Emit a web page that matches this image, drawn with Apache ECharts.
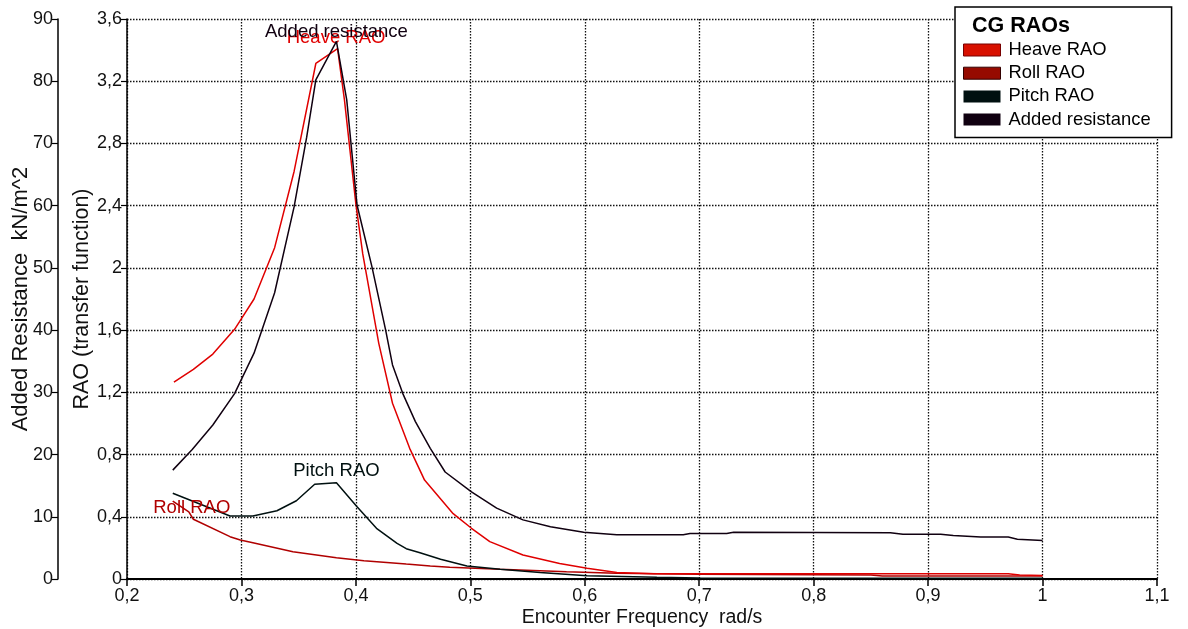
<!DOCTYPE html>
<html>
<head>
<meta charset="utf-8">
<script src="https://cdn.jsdelivr.net/npm/echarts@6/dist/echarts.min.js"></script>
<style>
  html, body { margin: 0; padding: 0; background: #fff; }
  #charts { width: 1188px; height: 629px; }
</style>
</head>
<body>
<div id="charts"></div>
<script>
(function () {
    // heave RAO (transfer function)
    var heaveX = [0.241, 0.258, 0.275, 0.294, 0.311, 0.329, 0.346, 0.365, 0.384, 0.390, 0.400, 0.406, 0.420, 0.432, 0.447, 0.460, 0.485, 0.501, 0.517, 0.546, 0.578, 0.602, 0.628, 0.660, 0.750, 0.850, 0.970, 0.980, 1.000];
    var heaveY = [1.266, 1.348, 1.446, 1.605, 1.80, 2.13, 2.62, 3.314, 3.41, 3.08, 2.41, 2.09, 1.515, 1.13, 0.84, 0.636, 0.42, 0.326, 0.24, 0.154, 0.10, 0.069, 0.042, 0.034, 0.033, 0.033, 0.033, 0.025, 0.022];

    // roll RAO
    var rollX = [0.240, 0.254, 0.258, 0.290, 0.299, 0.310, 0.345, 0.383, 0.407, 0.444, 0.465, 0.482, 0.526, 0.584, 0.628, 0.700, 0.800, 0.850, 0.860, 0.980, 1.000];
    var rollY = [0.50, 0.432, 0.384, 0.272, 0.251, 0.233, 0.175, 0.137, 0.118, 0.096, 0.084, 0.075, 0.062, 0.047, 0.037, 0.030, 0.027, 0.025, 0.020, 0.020, 0.020];

    // pitch RAO
    var pitchX = [0.240, 0.290, 0.310, 0.331, 0.348, 0.364, 0.383, 0.401, 0.418, 0.436, 0.444, 0.456, 0.474, 0.497, 0.526, 0.561, 0.602, 0.663, 0.700, 1.000];
    var pitchY = [0.551, 0.405, 0.405, 0.439, 0.503, 0.609, 0.619, 0.465, 0.326, 0.229, 0.195, 0.169, 0.127, 0.084, 0.062, 0.041, 0.021, 0.011, 0.006, 0.005];

    // added resistance kN/m^2
    var resX = [0.240, 0.257, 0.275, 0.294, 0.311, 0.329, 0.346, 0.357, 0.365, 0.383, 0.392, 0.401, 0.414, 0.426, 0.432, 0.441, 0.452, 0.465, 0.478, 0.501, 0.523, 0.546, 0.570, 0.599, 0.628, 0.686, 0.692, 0.724, 0.730, 0.867, 0.878, 0.911, 0.922, 0.946, 0.970, 0.978, 1.000];
    var resY = [17.5, 20.8, 24.75, 29.8, 36.3, 46.0, 59.8, 71.0, 80.2, 86.4, 77.0, 60.1, 50.2, 40.0, 34.4, 29.8, 25.3, 21.0, 17.2, 14.0, 11.4, 9.5, 8.4, 7.5, 7.1, 7.1, 7.3, 7.3, 7.5, 7.45, 7.2, 7.2, 7.0, 6.75, 6.75, 6.4, 6.2];

    var xTicks = { min: 0.2, max: 1.1, step: 0.1 };
    var raoTicks = { min: 0, max: 3.6, step: 0.4 };
    var resTicks = { min: 0, max: 90, step: 10 };

    var font = 'Liberation Sans, Arial, sans-serif';
    var dotted = { color: '#111', width: 1.3, type: [1.5, 1.5] };

    function comma(v) {
        return String(Math.round(v * 10) / 10).replace('.', ',');
    }

    // pair x/y arrays, put the series label on one point
    function pairs(xs, ys, labelIdx, label) {
        return xs.map(function (x, i) {
            if (i === labelIdx) {
                return { value: [x, ys[i]], symbol: 'circle', symbolSize: 0.5, label: label };
            }
            return [x, ys[i]];
        });
    }
    function peakIndex(ys) {
        var k = 0;
        ys.forEach(function (v, i) { if (v > ys[k]) k = i; });
        return k;
    }
    function seriesLabel(text, color, offset) {
        return {
            show: true, position: 'inside', offset: offset,
            formatter: text, fontSize: 18.5, color: color, fontFamily: font
        };
    }

    var heaveColor = '#e00000',
        rollColor = '#b00000',
        pitchColor = '#001010',
        resColor = '#100010';

    var myChart = echarts.init(document.getElementById('charts'));

    var option = {
        animation: false,
        textStyle: { fontFamily: font },
        grid: { left: 127, right: 31, top: 19, bottom: 50, containLabel: false, outerBoundsMode: 'none' },
        title: {
            text: 'CG RAOs',
            left: 972, top: 15,
            padding: 0,
            textStyle: { fontFamily: font, fontSize: 21.5, fontWeight: 'bold', color: '#000' }
        },
        legend: {
            orient: 'vertical',
            left: 955, top: 7,
            padding: [34, 21, 8.8, 8],
            backgroundColor: '#fff',
            borderColor: '#000',
            borderWidth: 1.5,
            borderRadius: 0,
            itemWidth: 37,
            itemHeight: 12,
            itemGap: 5.2,
            icon: 'rect',
            textStyle: { fontFamily: font, fontSize: 18.4, color: '#000', padding: [0, 0, 0, 3] },
            data: [
                { name: 'Heave RAO', itemStyle: { color: '#d81000', borderColor: '#700', borderWidth: 1 } },
                { name: 'Roll RAO', itemStyle: { color: '#960a00', borderColor: '#300', borderWidth: 1 } },
                { name: 'Pitch RAO', itemStyle: { color: pitchColor, borderWidth: 0 } },
                { name: 'Added resistance', itemStyle: { color: resColor, borderWidth: 0 } }
            ]
        },
        xAxis: {
            type: 'value',
            min: xTicks.min, max: xTicks.max, interval: xTicks.step,
            name: 'Encounter Frequency  rad/s',
            nameLocation: 'middle',
            nameGap: 29,
            nameMoveOverlap: false,
            nameTextStyle: { fontFamily: font, fontSize: 19.5, color: '#111' },
            axisLine: { show: true, onZero: false, lineStyle: { color: '#000', width: 2 } },
            axisTick: { show: true, length: 7, lineStyle: { color: '#000', width: 1.5 } },
            axisLabel: { margin: 8, fontSize: 18, color: '#111', formatter: comma },
            splitLine: { show: true, lineStyle: dotted }
        },
        yAxis: [
            {
                type: 'value',
                position: 'left',
                min: raoTicks.min, max: raoTicks.max, interval: raoTicks.step,
                name: 'RAO (transfer function)',
                nameLocation: 'middle',
                nameGap: 34,
                nameMoveOverlap: false,
                nameTextStyle: { fontFamily: font, fontSize: 21.5, color: '#111' },
                axisLine: { show: true, lineStyle: { color: '#000', width: 1.5 } },
                axisTick: { show: true, length: 6, lineStyle: { color: '#000', width: 1.2 } },
                axisLabel: { margin: 5, fontSize: 18, color: '#111', formatter: comma },
                splitLine: { show: true, lineStyle: dotted }
            },
            {
                type: 'value',
                position: 'left',
                offset: 69,
                min: resTicks.min, max: resTicks.max, interval: resTicks.step,
                name: 'Added Resistance  kN/m^2',
                nameLocation: 'middle',
                nameGap: 26,
                nameMoveOverlap: false,
                nameTextStyle: { fontFamily: font, fontSize: 22, color: '#111' },
                axisLine: { show: true, lineStyle: { color: '#000', width: 1.5 } },
                axisTick: { show: true, length: 6, lineStyle: { color: '#000', width: 1.2 } },
                axisLabel: { margin: 5, fontSize: 18, color: '#111' },
                splitLine: { show: false }
            }
        ],
        series: [
            {
                name: 'Heave RAO',
                type: 'line',
                yAxisIndex: 0,
                symbol: 'none',
                showAllSymbol: true,
                lineStyle: { color: heaveColor, width: 1.5 },
                itemStyle: { color: heaveColor },
                data: pairs(heaveX, heaveY, peakIndex(heaveY), seriesLabel('Heave RAO', heaveColor, [-1.5, -10.5])),
                z: 3
            },
            {
                name: 'Roll RAO',
                type: 'line',
                yAxisIndex: 0,
                symbol: 'none',
                showAllSymbol: true,
                lineStyle: { color: rollColor, width: 1.5 },
                itemStyle: { color: rollColor },
                data: pairs(rollX, rollY, 0, seriesLabel('Roll RAO', rollColor, [19, 7])),
                z: 2
            },
            {
                name: 'Pitch RAO',
                type: 'line',
                yAxisIndex: 0,
                symbol: 'none',
                showAllSymbol: true,
                lineStyle: { color: pitchColor, width: 1.5 },
                itemStyle: { color: pitchColor },
                data: pairs(pitchX, pitchY, peakIndex(pitchY), seriesLabel('Pitch RAO', pitchColor, [0, -11.5])),
                z: 2
            },
            {
                name: 'Added resistance',
                type: 'line',
                yAxisIndex: 1,
                symbol: 'none',
                showAllSymbol: true,
                lineStyle: { color: resColor, width: 1.5 },
                itemStyle: { color: resColor },
                data: pairs(resX, resY, peakIndex(resY), seriesLabel('Added resistance', resColor, [0, -9.5])),
                z: 4
            }
        ]
    };

    myChart.setOption(option);
})();
</script>
</body>
</html>
